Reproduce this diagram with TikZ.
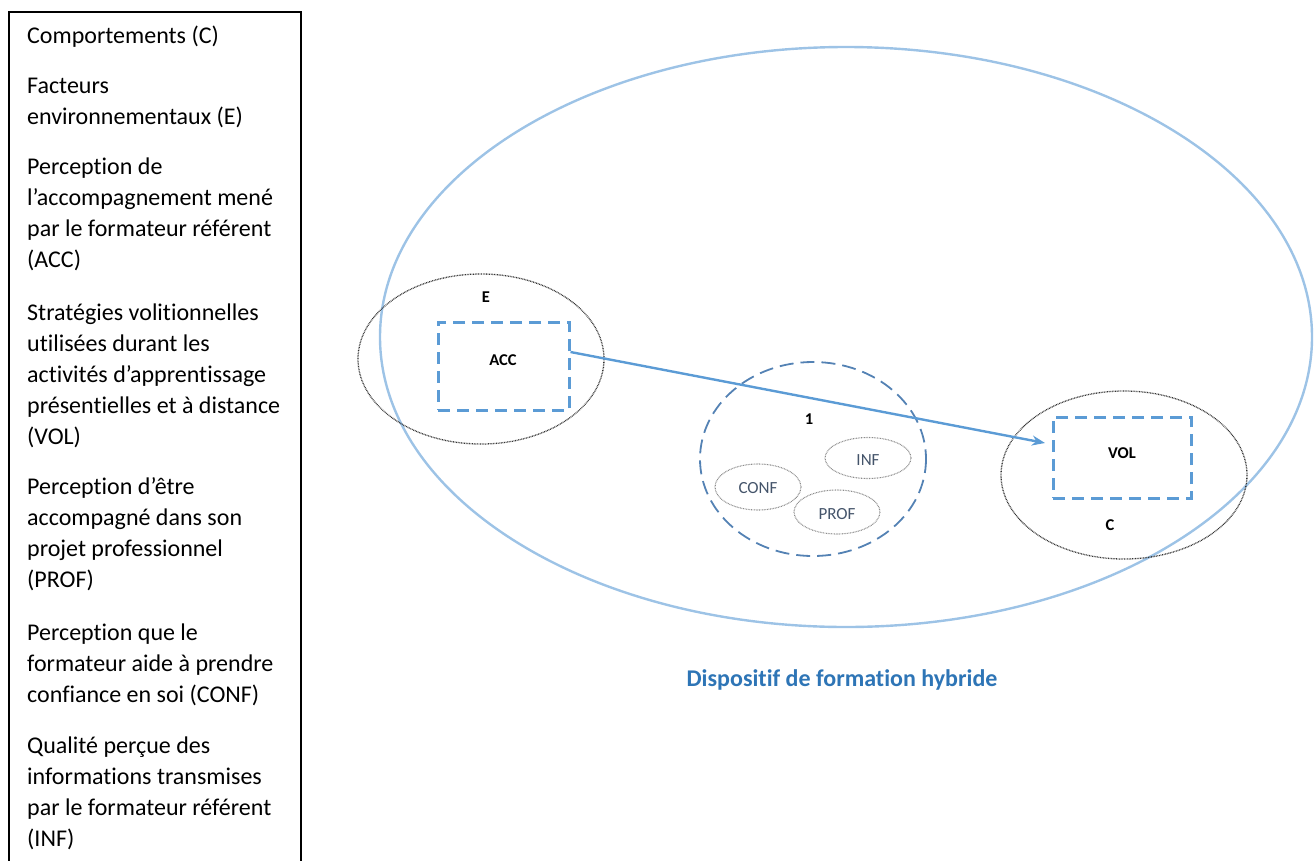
\documentclass[tikz,border=0pt]{standalone}
\usepackage{fontspec}
\setmainfont{Carlito}[Ligatures=NoCommon]
\usetikzlibrary{arrows.meta,calc}
\definecolor{bigblue}{RGB}{157,195,230}
\definecolor{rectblue}{RGB}{91,155,213}
\definecolor{circblue}{RGB}{84,130,180}
\definecolor{titleblue}{RGB}{46,117,182}
\definecolor{labgray}{RGB}{68,84,106}
\newcommand{\legtext}[1]{\begin{tabular}[t]{@{}l@{}}#1\end{tabular}}
\tikzset{
  legend/.style={anchor=base west,inner sep=0pt,font=\fontsize{24}{31}\selectfont},
  bigell/.style={draw=bigblue,line width=2.4pt},
  dotell/.style={draw=black!80,line width=1.3pt,dash pattern=on 0.8pt off 0.8pt},
  smallell/.style={draw=black!45,line width=1.1pt,dash pattern=on 0.8pt off 0.8pt},
  dashrect/.style={draw=rectblue,line width=3pt,dash pattern=on 12pt off 7pt},
  dashcirc/.style={draw=circblue,line width=1.8pt,dash pattern=on 14pt off 7pt},
  blab/.style={font=\fontsize{16.5}{18}\selectfont\bfseries,inner sep=0pt},
  slab/.style={font=\fontsize{17}{18}\selectfont,text=labgray,inner sep=0pt},
  conn/.style={draw=rectblue,line width=2.4pt,-{Stealth[length=13pt,width=10pt]}}
}
\begin{document}
\begin{tikzpicture}[x=1pt,y=-1pt]
\useasboundingbox (0,0) rectangle (1314,860);
% legend frame (open at bottom)
\draw[line width=1.2pt] (9,875) -- (9,12) -- (301,12) -- (301,875);
\node[legend] (l1) at (27,43) {\legtext{Comportements (C)}};
\node[legend] (l2) at (27,93) {\legtext{Facteurs\\environnementaux (E)}};
\node[legend] (l3) at (27,174) {\legtext{Perception de\\l’accompagnement mené\\par le formateur référent\\(ACC)}};
\node[legend] (l4) at (27,320) {\legtext{Stratégies volitionnelles\\utilisées durant les\\activités d’apprentissage\\présentielles et à distance\\(VOL)}};
\node[legend] (l5) at (27,494) {\legtext{Perception d’être\\accompagné dans son\\projet professionnel\\(PROF)}};
\node[legend] (l6) at (27,640) {\legtext{Perception que le\\formateur aide à prendre\\confiance en soi (CONF)}};
\node[legend] (l7) at (27,753) {\legtext{Qualité perçue des\\informations transmises\\par le formateur référent\\(INF)}};
% big ellipse
\draw[bigell] (846,337) ellipse [x radius=466, y radius=290];
% E ellipse
\draw[dotell] (481,359) ellipse [x radius=123, y radius=85];
\node[blab] (E) at (486,297) {E};
\node[dashrect,minimum width=131pt,minimum height=88pt,inner sep=0pt] (acc) at (503.5,366) {};
\node[blab] (acclab) at (503,360) {ACC};
% central dashed circle
\draw[dashcirc] (813,459) ellipse [x radius=113, y radius=97];
\node[blab] (one) at (809,419) {1};
\draw[smallell] (868,458) ellipse [x radius=43, y radius=20.5];
\node[slab] (inf) at (868,460) {INF};
\draw[smallell] (758,487) ellipse [x radius=43, y radius=23];
\node[slab] (conf) at (758,488) {CONF};
\draw[smallell] (837,512) ellipse [x radius=43, y radius=22];
\node[slab] (prof) at (837,514) {PROF};
% C ellipse
\draw[dotell] (1124,475) ellipse [x radius=123, y radius=84];
\node[dashrect,minimum width=138pt,minimum height=81pt,inner sep=0pt] (vol) at (1122,457.5) {};
\node[blab] (vollab) at (1122,453) {VOL};
\node[blab] (C) at (1110,525) {C};
% arrow
\coordinate (arrEnd) at (1045,443);
\draw[conn] ($(acc.east)+(0,-14)$) -- (arrEnd);
% title
\node[font=\fontsize{24}{28}\selectfont\bfseries,text=titleblue] (title) at (842,680) {Dispositif de formation hybride};
\end{tikzpicture}
\end{document}
